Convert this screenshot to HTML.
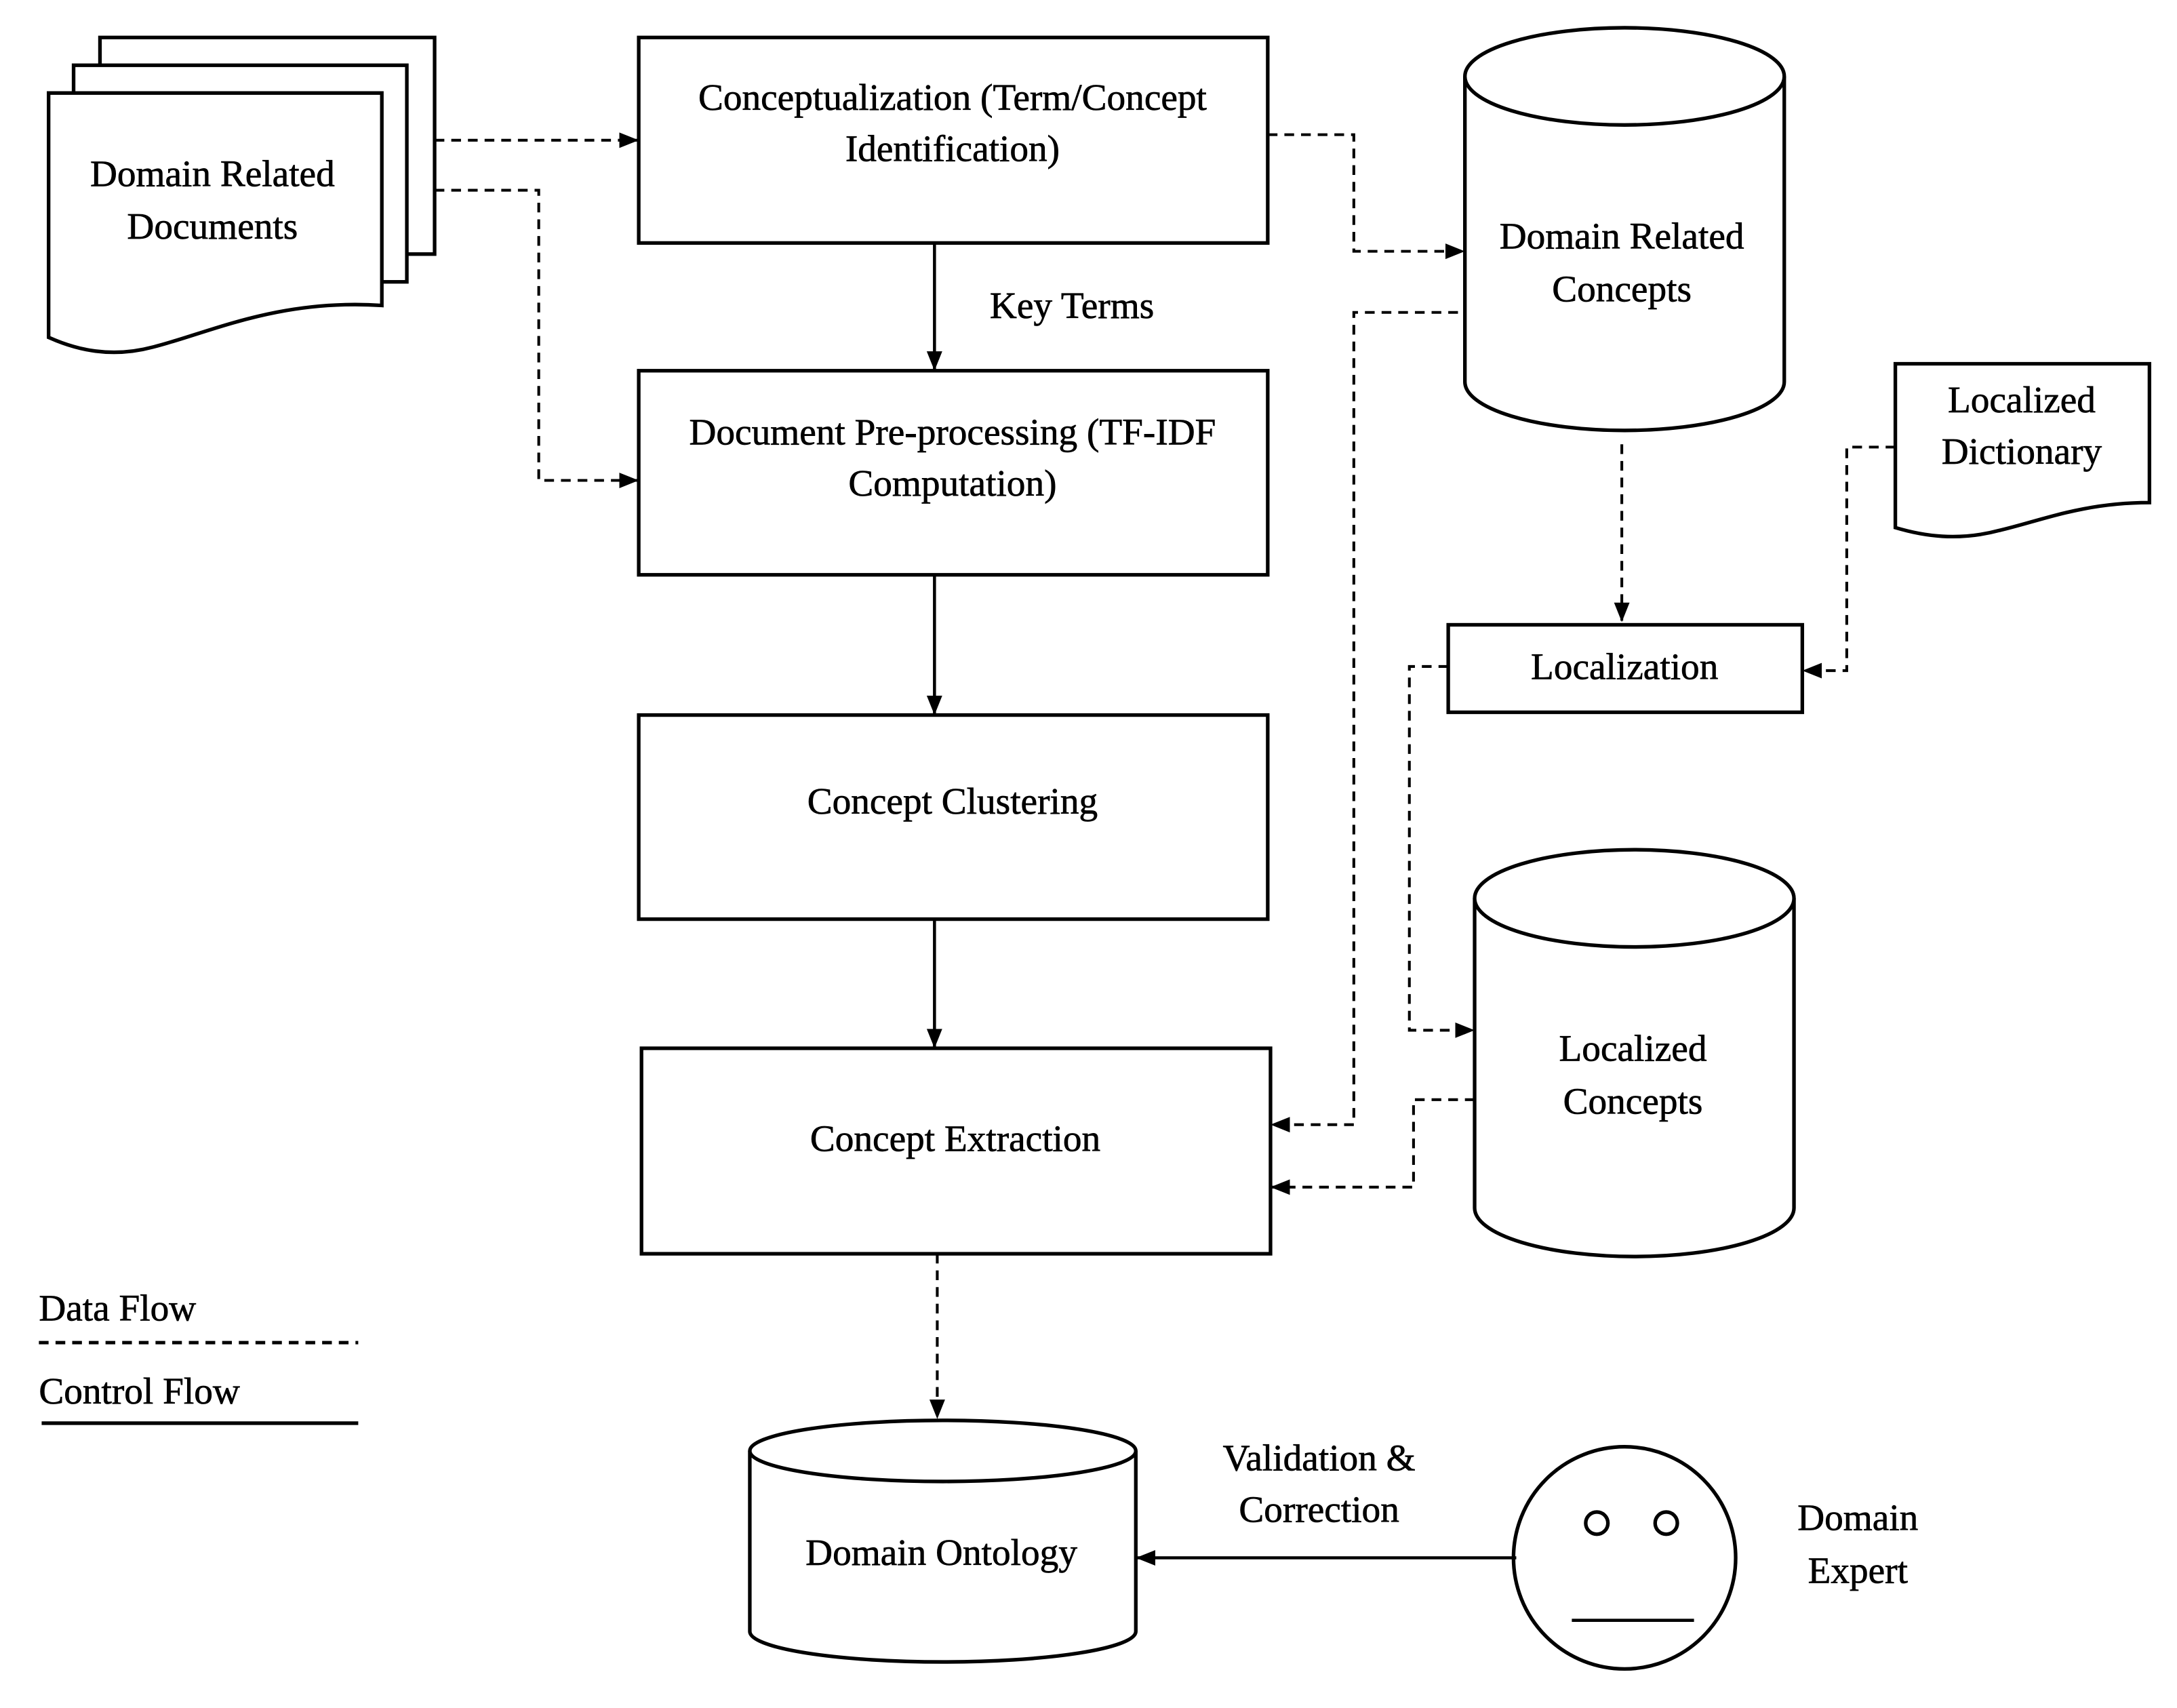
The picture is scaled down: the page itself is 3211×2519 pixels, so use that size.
<!DOCTYPE html>
<html><head><meta charset="utf-8"><style>html,body{margin:0;padding:0;background:#fff}svg{display:block}</style></head>
<body>
<svg width="3211" height="2519" viewBox="0 0 1560 1224" preserveAspectRatio="none" xmlns="http://www.w3.org/2000/svg">
<defs>
<marker id="b" viewBox="0 0 10 10" refX="10" refY="5" markerWidth="14" markerHeight="14" orient="auto" markerUnits="userSpaceOnUse"><path d="M0,1L10,5L0,9z" fill="#000"/></marker>
</defs>
<g transform="scale(0.995)">
<g fill="#fff" stroke="#000" stroke-width="2.6">
<rect x="72" y="27" width="241" height="156"/>
<rect x="53" y="47" width="240" height="156"/>
<path d="M35,67H275V220C200,215 150,240 110,250 C80,258 55,252 35,243Z"/>
<rect x="460" y="27" width="453" height="148"/>
<rect x="460" y="267" width="453" height="147"/>
<rect x="460" y="515" width="453" height="147"/>
<rect x="462" y="755" width="453" height="148"/>
<rect x="1043" y="450" width="255" height="63"/>
<path d="M1365,262H1548V362C1500,362 1470,375 1440,382 C1410,390 1385,386 1365,380Z"/>
<path d="M1055,55V275A115,35 0 0 0 1285,275V55"/>
<ellipse cx="1170" cy="55" rx="115" ry="35"/>
<path d="M1062,647V870A115,35 0 0 0 1292,870V647"/>
<ellipse cx="1177" cy="647" rx="115" ry="35"/>
<path d="M540,1045V1175A139,22 0 0 0 818,1175V1045"/>
<ellipse cx="679" cy="1045" rx="139" ry="22"/>
<circle cx="1170" cy="1122" r="80"/>
<circle cx="1150" cy="1097" r="8"/>
<circle cx="1200" cy="1097" r="8"/>
</g>
<g fill="none" stroke="#000" stroke-width="2.2">
<line x1="1132" y1="1167" x2="1220" y2="1167"/>
<line x1="673" y1="175" x2="673" y2="267" marker-end="url(#b)"/>
<line x1="673" y1="414" x2="673" y2="515" marker-end="url(#b)"/>
<line x1="673" y1="662" x2="673" y2="755" marker-end="url(#b)"/>
<line x1="1092" y1="1122" x2="818" y2="1122" marker-end="url(#b)"/>
<line x1="30" y1="1025" x2="258" y2="1025" stroke-width="2.6"/>
</g>
<g fill="none" stroke="#000" stroke-width="2" stroke-dasharray="7,5">
<line x1="313" y1="101" x2="460" y2="101" marker-end="url(#b)"/>
<polyline points="313,137 388,137 388,346 460,346" marker-end="url(#b)"/>
<polyline points="913,97 975,97 975,181 1055,181" marker-end="url(#b)"/>
<polyline points="1050,225 975,225 975,810 915,810" marker-end="url(#b)"/>
<line x1="1168" y1="320" x2="1168" y2="448" marker-end="url(#b)"/>
<polyline points="1365,322 1330,322 1330,483 1298,483" marker-end="url(#b)"/>
<polyline points="1043,480 1015,480 1015,742 1062,742" marker-end="url(#b)"/>
<polyline points="1062,792 1018,792 1018,855 915,855" marker-end="url(#b)"/>
<line x1="675" y1="903" x2="675" y2="1022" marker-end="url(#b)"/>
<line x1="28" y1="967" x2="258" y2="967" stroke-width="2.4"/>
</g>
<g font-family="'Liberation Serif',serif" font-size="27" text-anchor="middle" fill="#000" stroke="#000" stroke-width="0.35">
<text x="153" y="134">Domain Related</text>
<text x="153" y="172">Documents</text>
<text x="686" y="79">Conceptualization (Term/Concept</text>
<text x="686" y="116">Identification)</text>
<text x="772" y="229">Key Terms</text>
<text x="686" y="320">Document Pre-processing (TF-IDF</text>
<text x="686" y="357">Computation)</text>
<text x="686" y="586">Concept Clustering</text>
<text x="688" y="829">Concept Extraction</text>
<text x="1168" y="179">Domain Related</text>
<text x="1168" y="217">Concepts</text>
<text x="1456" y="297">Localized</text>
<text x="1456" y="334">Dictionary</text>
<text x="1170" y="489">Localization</text>
<text x="1176" y="764">Localized</text>
<text x="1176" y="802">Concepts</text>
<text x="678" y="1127">Domain Ontology</text>
<text x="950" y="1059">Validation &amp;</text>
<text x="950" y="1096">Correction</text>
<text x="1338" y="1102">Domain</text>
<text x="1338" y="1140">Expert</text>
<text x="28" y="951" text-anchor="start">Data Flow</text>
<text x="28" y="1011" text-anchor="start">Control Flow</text>
</g>
</g>
</svg>
</body></html>
